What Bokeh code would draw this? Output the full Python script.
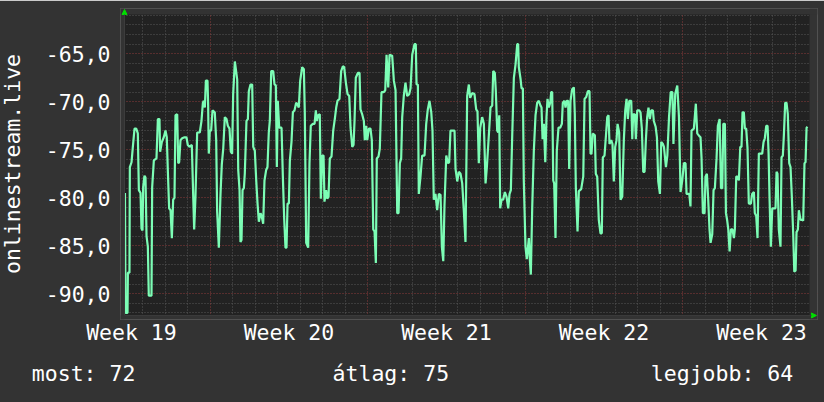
from bokeh.plotting import figure
from bokeh.models import FixedTicker, Grid, Range1d, Arrow, NormalHead, BoxAnnotation, LinearAxis
from bokeh.embed import file_html
from bokeh.resources import INLINE

# ---- data (hours since the left edge of the window, signal value) ----
hours = [
    0.5, 1.1, 3.2, 3.6, 5.3, 5.7, 7.5, 8.9, 10.7, 12.5, 14.2, 15.3, 17.1, 18.1, 19.2, 19.9, 21.3, 22.4, 23.5, 24.9,
    25.9, 28.8, 29.5, 31.3, 34.1, 35.6, 37.3, 38.0, 39.8, 41.9, 43.7, 45.1, 46.2, 47.6, 49.1, 50.5, 51.9, 53.3, 54.4, 56.2,
    57.3, 58.3, 59.7, 61.5, 64.0, 66.1, 67.5, 69.3, 71.8, 73.3, 74.3, 75.7, 77.5, 80.3, 82.1, 83.6, 84.6, 85.7, 86.8, 88.5,
    89.2, 89.9, 91.0, 92.4, 93.9, 96.3, 97.8, 98.8, 100.6, 102.4, 103.8, 105.3, 107.0, 108.8, 110.2, 112.0, 113.4, 114.8, 115.9, 117.7,
    120.2, 121.3, 122.7, 123.7, 124.8, 125.9, 127.3, 128.3, 130.1, 131.6, 132.6, 134.4, 136.2, 137.3, 139.0, 140.5, 141.9, 143.3, 145.1, 146.5,
    147.9, 149.3, 151.1, 152.5, 153.9, 155.0, 156.5, 158.6, 160.0, 161.4, 162.5, 163.5, 165.0, 167.5, 168.9, 170.3, 171.7, 172.8, 173.9, 175.3,
    176.4, 178.1, 179.6, 181.3, 183.1, 184.5, 185.9, 187.4, 189.5, 191.3, 192.3, 193.8, 195.9, 197.3, 198.7, 200.9, 202.7, 204.1, 205.1, 206.6,
    208.3, 209.4, 210.9, 212.3, 213.3, 215.1, 216.2, 217.6, 219.0, 220.8, 222.6, 224.3, 225.8, 227.2, 229.3, 231.1, 232.9, 234.3, 236.1, 237.9,
    239.7, 241.1, 242.9, 244.3,
    245.3, 246.7, 248.9, 250.7, 251.7, 253.5, 255.3, 256.3, 257.8, 258.9, 260.6, 262.4, 263.8, 265.3, 266.7, 268.1,
    269.1, 270.9, 272.3, 274.1, 276.6, 278.1, 279.5, 281.3, 282.7, 285.5, 287.3, 289.1, 290.9, 292.3, 293.7, 295.1, 296.2, 297.9, 299.7, 301.5,
    303.7, 305.1, 306.9, 309.3, 310.7, 311.5, 312.9, 313.9, 315.7, 317.5, 320.0, 321.8, 323.5, 325.3, 327.2, 328.5, 329.9, 331.7, 333.5, 335.3,
    337.1, 338.5, 340.0, 341.3, 343.2, 344.9, 346.3, 347.7, 349.9, 352.0, 353.1, 354.9, 356.6, 358.4, 360.2, 361.9, 363.7, 365.5, 367.3,
    368.7, 370.9, 373.3, 375.1, 376.5, 377.9, 379.4, 381.5, 383.3, 385.1, 386.5, 388.6, 390.4, 392.2, 393.3, 395.0, 396.1, 397.5, 398.6, 399.7,
    400.7, 402.1, 403.9, 405.7, 407.5, 409.3, 410.7, 412.1, 413.5, 415.3, 417.1, 418.9, 419.9, 420.6, 422.4, 423.5, 424.9, 425.9, 427.7, 429.1,
    431.3, 432.3, 433.4, 434.9, 436.6, 438.4, 440.2, 441.9, 443.7, 444.8, 445.9, 447.3, 448.8, 450.1, 451.2, 452.6, 454.1, 455.1, 456.2, 457.3,
    458.3, 459.7, 461.1, 462.9, 464.7, 466.5, 467.5, 469.3, 470.4, 471.7, 473.2, 474.3, 475.7, 477.5, 479.3, 480.3, 481.4, 483.2, 484.6, 487.1,
    489.3, 490.7, 492.5, 494.2, 496.0, 497.1, 498.1, 499.5, 501.7, 502.7, 504.2, 505.9, 507.7, 509.1, 510.2, 512.0, 513.4, 514.9, 516.3, 517.3,
    519.1, 520.5, 521.9, 523.4, 524.8, 525.9, 527.6, 529.1, 530.9, 532.6, 534.1, 535.5, 536.9, 538.4, 540.5, 541.6, 542.6, 544.4, 545.4, 546.9,
    549.0, 550.4, 551.8, 553.3, 554.7, 556.1, 557.5, 558.9, 560.4, 561.8, 563.6, 564.6, 566.5, 567.9, 569.3, 571.1, 572.5, 574.3, 575.4, 577.5,
    579.0, 580.8, 582.6, 584.4, 585.5, 587.4, 589.6, 591.4, 593.1, 594.9, 596.7, 598.4, 599.5, 600.9, 602.4, 603.7, 604.8, 607.3, 609.4, 610.9,
    613.3, 614.4, 615.5, 616.9, 618.7, 619.7, 621.2, 622.6, 624.0, 625.1, 626.9, 628.3, 629.7, 631.5, 632.9, 634.8, 636.2, 637.6, 638.7, 640.4,
    641.5, 642.9, 644.0, 645.4, 646.8, 648.5, 650.0, 651.0, 652.5, 653.9, 655.3, 656.8, 658.1, 659.2, 660.6, 661.7, 663.1, 664.5, 665.9, 668.1,
    669.5, 671.3, 672.3, 673.8, 675.2, 676.6, 678.8, 680.2, 681.6, 683.0, 684.5, 685.9, 687.0, 688.0, 689.4, 690.9, 693.0, 694.4, 695.5, 696.5,
    697.9, 699.7, 700.8, 702.2, 703.3, 704.7, 706.1, 707.5, 709.0, 710.4, 711.8, 713.3, 714.4, 715.8, 716.8, 718.2, 719.3, 721.1, 722.9, 723.9,
    725.3, 726.4, 727.5, 728.5,
]
signal = [
    -79.5, -92.0, -92.0, -87.8, -87.8, -76.8, -76.3, -74.7, -72.8, -72.8, -73.3, -79.2, -79.5, -83.2, -83.4, -78.9, -77.7, -77.9, -84.0, -85.1,
    -90.2, -90.2, -78.9, -76.1, -75.9, -71.8, -71.8, -75.2, -74.2, -73.7, -73.0, -73.7, -77.1, -81.1, -81.3, -84.2, -80.2, -80.0, -71.4, -71.3,
    -76.4, -76.3, -74.0, -73.8, -73.7, -73.7, -74.5, -74.7, -74.5, -79.9, -83.3, -79.9, -73.2, -73.2, -72.0, -70.1, -69.9, -70.6, -67.8, -67.8,
    -70.3, -75.4, -73.0, -73.0, -70.9, -71.1, -74.0, -81.4, -85.2, -79.6, -76.5, -74.9, -71.6, -71.8, -72.5, -72.8, -75.2, -75.4, -69.2, -65.8,
    -67.7, -77.1, -79.2, -84.6, -84.4, -79.2, -79.0, -77.5, -72.0, -71.8, -68.9, -68.2, -68.2, -74.7, -75.1, -78.2, -80.6, -82.5, -81.6, -82.0,
    -82.7, -78.2, -77.1, -76.8, -73.2, -72.0, -66.8, -66.8, -68.2, -68.3, -76.8, -69.9, -72.7, -72.7, -77.8, -82.1, -85.2, -85.2, -80.6, -80.6,
    -76.1, -74.2, -71.1, -70.9, -70.1, -70.3, -70.6, -67.8, -66.4, -66.6, -71.1, -84.7, -85.2, -76.4, -72.5, -72.3, -72.3, -70.9, -72.0, -71.4,
    -71.3, -80.1, -75.6, -75.6, -80.4, -79.2, -80.1, -79.9, -75.9, -75.7, -73.0, -71.8, -70.6, -69.9, -69.7, -66.8, -66.3, -66.4, -68.0, -69.2,
    -69.4, -72.7, -74.7, -74.5,
    -72.1, -67.5, -67.0, -67.0, -70.8, -71.3, -72.0, -74.0, -72.5, -74.0, -72.8, -72.8, -74.0, -83.3, -83.5, -86.8,
    -75.9, -75.7, -74.9, -69.0, -69.0, -68.8, -65.1, -68.5, -65.1, -65.2, -67.8, -68.8, -81.6, -81.6, -76.4, -75.9, -71.6, -69.4, -68.0, -69.4,
    -69.2, -68.6, -65.1, -64.0, -64.0, -68.2, -68.2, -79.6, -77.8, -75.6, -75.6, -72.3, -70.8, -69.9, -71.1, -73.0, -80.2, -79.6, -81.3, -79.6,
    -79.7, -85.1, -86.6, -80.8, -75.6, -76.4, -76.3, -73.0, -73.0, -73.0, -77.0, -78.3, -77.3, -77.5, -78.5, -81.3, -84.6, -69.4, -68.2,
    -69.6, -69.1, -69.2, -70.8, -71.0, -76.4, -72.7, -71.6, -72.3, -78.5, -76.8, -73.5, -70.6, -70.4, -66.8, -67.0, -69.0, -73.0, -73.2, -71.4,
    -81.1, -80.2, -80.2, -79.4, -79.9, -81.1, -79.6, -79.2, -73.7, -67.5, -66.1, -64.0, -64.0, -66.4, -67.6, -68.6, -68.6, -78.2, -85.1, -86.4,
    -84.2, -86.4, -88.0, -80.9, -75.1, -71.4, -70.1, -69.9, -70.4, -70.6, -73.9, -72.3, -76.3, -71.6, -69.7, -70.6, -70.1, -69.0, -69.0, -78.2,
    -78.5, -84.2, -75.1, -72.7, -72.7, -72.3, -70.1, -69.9, -70.6, -69.9, -69.9, -77.0, -69.9, -68.7, -68.5, -71.3, -78.9, -83.5, -79.3, -79.1,
    -77.8, -69.7, -69.5, -68.9, -68.9, -75.4, -75.4, -73.3, -73.5, -77.5, -77.8, -82.3, -83.7, -83.7, -75.8, -75.6, -73.7, -71.6, -71.4, -74.4,
    -74.0, -74.4, -78.3, -74.7, -74.0, -72.3, -73.2, -80.2, -79.9, -74.0, -70.9, -69.7, -71.8, -69.9, -69.9, -73.9, -71.3, -71.3, -73.9, -70.9,
    -70.9, -71.1, -72.8, -77.3, -77.3, -74.0, -71.6, -70.6, -71.8, -70.9, -70.9, -72.0, -72.6, -73.7, -78.3, -79.6, -74.2, -74.4, -74.7, -76.8,
    -75.6, -71.6, -69.0, -69.0, -74.4, -69.2, -68.3, -71.6, -79.4, -78.2, -76.4, -76.4, -79.6, -79.6, -79.6, -80.9, -73.0, -72.8, -70.2, -73.3,
    -73.6, -73.7, -75.9, -81.6, -81.6, -77.8, -77.5, -80.2, -83.3, -84.7, -83.8, -79.2, -79.0, -75.9, -72.5, -71.8, -79.0, -79.0, -72.3, -72.3,
    -81.6, -82.4, -83.3, -85.6, -83.3, -83.3, -84.2, -83.3, -77.8, -77.8, -78.2, -74.7, -74.7, -71.1, -71.1, -72.8, -72.8, -74.8, -80.6, -80.6,
    -79.6, -79.4, -81.6, -81.9, -84.2, -75.4, -75.4, -75.4, -74.2, -73.8, -72.5, -72.5, -75.4, -80.0, -85.1, -81.1, -81.1, -81.1, -77.3, -77.5,
    -83.3, -85.1, -75.8, -75.6, -73.5, -70.1, -70.1, -71.3, -76.4, -76.8, -79.9, -83.9, -87.7, -87.6, -83.6, -83.3, -81.3, -82.3, -82.3, -82.4,
    -76.4, -76.3, -72.7, -72.6,
]

# time window and value window of the graph canvas
t_start, t_end = 0.0, 730.67
v_min, v_max = -92.26, -60.91

week_labels = ["Week 19", "Week 20", "Week 21", "Week 22", "Week 23"]
week_centres = [7.4, 175.4, 343.4, 511.4, 679.4]       # hours
week_bounds = [91.4, 259.4, 427.4, 595.4]              # hours
day_lines = [19.4 + 24 * k for k in range(30)]
day_lines = [d for d in day_lines if all(abs(d - w) > 1 for w in week_bounds)]

y_major = [-90, -85, -80, -75, -70, -65]
y_labels = ["-90,0", "-85,0", "-80,0", "-75,0", "-70,0", "-65,0"]
y_minor = [v for v in range(-92, -60) if v % 5 != 0]

stat_names = ["most", "átlag", "legjobb"]
stat_values = [72, 75, 64]
y_title = "onlinestream.live"

FONT = "DejaVu Sans Mono"
FS = "21.5px"
TXT = "#ffffff"
BACK = "#333333"
CANVAS = "#222222"

# small margins around the canvas (hours / units) so the axis arrows fit in the frame
pad_l, pad_r = 4.27, 8.5
pad_b, pad_t = 0.42, 0.625
SHIFT = 6   # extra left border hidden by a negative margin, room for the rotated axis title

p = figure(width=824 + SHIFT, height=402, output_backend="svg", toolbar_location=None,
           x_range=Range1d(t_start - pad_l, t_end + pad_r),
           y_range=Range1d(v_min - pad_b, v_max + pad_t),
           min_border_left=120 + SHIFT, min_border_right=7, min_border_top=8, min_border_bottom=83,
           background_fill_color=CANVAS, border_fill_color=BACK,
           outline_line_color=None, margin=(0, 0, 0, -SHIFT))

p.xgrid.grid_line_color = None
p.ygrid.grid_line_color = None

for dim, ticks, col in [(0, day_lines, "#575757"), (1, y_minor, "#575757"),
                        (0, week_bounds, "#8c3a3a"), (1, y_major, "#8c3a3a")]:
    p.add_layout(Grid(dimension=dim, ticker=FixedTicker(ticks=ticks),
                      grid_line_color=col, grid_line_dash="1 2", grid_line_width=1))


def style_axis(ax):
    ax.major_tick_line_color = None
    ax.minor_tick_line_color = None
    ax.major_tick_out = 0
    ax.major_tick_in = 0
    ax.minor_tick_out = 0
    ax.minor_tick_in = 0
    ax.axis_line_color = None
    ax.major_label_text_font = FONT
    ax.major_label_text_font_size = FS
    ax.major_label_text_color = TXT


p.xaxis.ticker = FixedTicker(ticks=week_centres)
p.xaxis.major_label_overrides = {c: l for c, l in zip(week_centres, week_labels)}
p.yaxis.ticker = FixedTicker(ticks=y_major)
p.yaxis.major_label_overrides = {c: l for c, l in zip(y_major, y_labels)}
style_axis(p.xaxis[0])
style_axis(p.yaxis[0])
p.xaxis.major_label_standoff = 0
p.xaxis.major_label_text_line_height = 1.0
p.yaxis.major_label_standoff = 10
p.yaxis.axis_label = y_title
p.yaxis.axis_label_text_font = FONT
p.yaxis.axis_label_text_font_size = FS
p.yaxis.axis_label_text_font_style = "normal"
p.yaxis.axis_label_text_color = TXT
p.yaxis.axis_label_standoff = 18

# legend line (current / average / best) as a second row of labels under the time axis
stat_texts = [f"{n}: {v}" for n, v in zip(stat_names, stat_values)]
stat_texts[0] = stat_texts[0] + "\u00a0" * 7       # left-aligned entry, padded to sit at the left edge
stat_centres = [4.69, 284.1, 637.3]   # hours, centre of each legend text
stat_axis = LinearAxis(ticker=FixedTicker(ticks=stat_centres),
                       major_label_overrides={c: t for c, t in zip(stat_centres, stat_texts)})
style_axis(stat_axis)
stat_axis.major_label_standoff = 13
stat_axis.major_label_text_line_height = 1.0
p.add_layout(stat_axis, "below")

p.line(hours, signal, line_color="#7cfdb5", line_width=2.2)

# cover the margins outside the canvas
for kw in (dict(right=t_start), dict(left=t_end), dict(top=v_min), dict(bottom=v_max)):
    p.add_layout(BoxAnnotation(fill_color=BACK, fill_alpha=1, line_alpha=0, level="overlay", **kw))

# axes with green arrow heads
head = dict(size=5, fill_color="#00dd00", line_color="#00dd00", line_width=1)
p.add_layout(Arrow(x_start=t_start, y_start=v_min, x_end=t_start, y_end=v_max + 0.52,
                   line_color="#3c3c3c", line_width=1, level="overlay", end=NormalHead(**head)))
p.add_layout(Arrow(x_start=t_start, y_start=v_min, x_end=t_end + 7.4, y_end=v_min,
                   line_color="#3c3c3c", line_width=1, level="overlay", end=NormalHead(**head)))

open("out.html", "w").write(file_html(p, INLINE))
